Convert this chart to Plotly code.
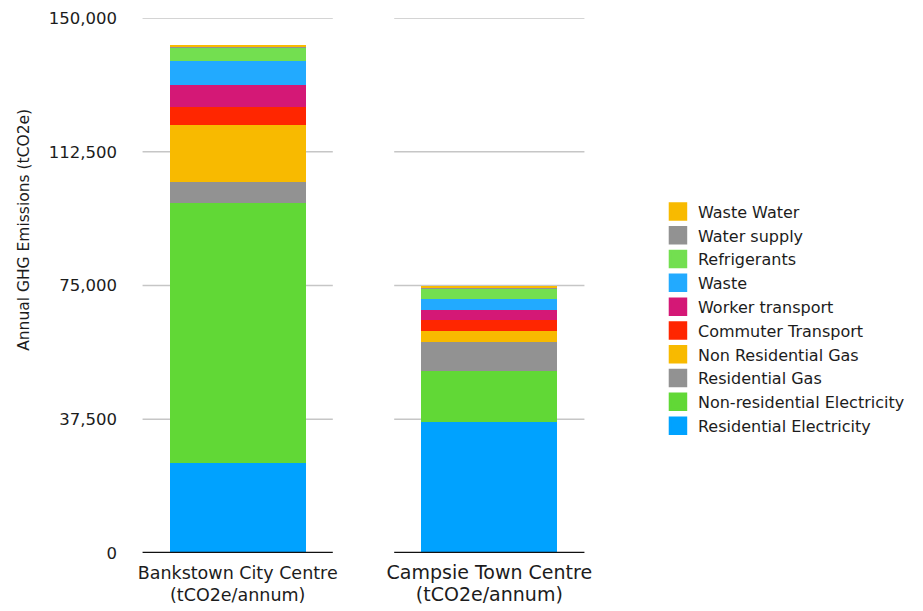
import plotly.graph_objects as go

# Town centres (x categories)
centres = ["Bankstown City Centre", "Campsie Town Centre"]
label_sub = "(tCO2e/annum)"

# Emission sources, bottom of the stack first
sources = [
    "Residential Electricity",
    "Non-residential Electricity",
    "Residential Gas",
    "Non Residential Gas",
    "Commuter Transport",
    "Worker transport",
    "Waste",
    "Refrigerants",
    "Water supply",
    "Waste Water",
]

# Annual emissions (tCO2e) per source, [Bankstown, Campsie]
residential_electricity = [25150, 36730]
non_residential_electricity = [72990, 14300]
residential_gas = [5970, 8130]
non_residential_gas = [15900, 3080]
commuter_transport = [5050, 3080]
worker_transport = [6170, 2800]
waste = [6730, 3080]
refrigerants = [3730, 3080]
water_supply = [50, 50]
waste_water = [560, 620]

values = [
    residential_electricity,
    non_residential_electricity,
    residential_gas,
    non_residential_gas,
    commuter_transport,
    worker_transport,
    waste,
    refrigerants,
    water_supply,
    waste_water,
]

colors = [
    "#00A2FF",
    "#61D836",
    "#929292",
    "#F8BA00",
    "#FF2600",
    "#D41876",
    "#22AAFF",
    "#73DF50",
    "#929292",
    "#F8BA00",
]

y_ticks = [0, 37500, 75000, 112500, 150000]

FONT = "DejaVu Sans"
TXT = "#1c1c1c"

fig = go.Figure()

for name, vals, col in zip(sources, values, colors):
    fig.add_trace(go.Bar(
        x=centres, y=vals, name=name, width=0.54,
        marker=dict(color=col, line=dict(width=0)),
        showlegend=False, legendgroup=name,
    ))

# larger square swatches for the legend
for name, col in zip(sources, colors):
    fig.add_trace(go.Scatter(
        x=[None], y=[None], mode="markers", name=name, legendgroup=name,
        marker=dict(symbol="square", size=16, color=col,
                    line=dict(color=col, width=2.5)),
    ))

# grid segments and baselines under each category only
shapes = []
for i in range(len(centres)):
    for t in y_ticks[1:]:
        shapes.append(dict(type="line", xref="x", yref="y",
                           x0=i - 0.378, x1=i + 0.378, y0=t, y1=t,
                           line=dict(color="#c6c6c6", width=1.6),
                           layer="below"))
    shapes.append(dict(type="line", xref="x", yref="y",
                       x0=i - 0.378, x1=i + 0.378, y0=0, y1=0,
                       line=dict(color="#111111", width=2.6),
                       layer="above"))

sizes = [17.5, 19]
ticktext = [
    f'<span style="font-size:{s}px">{c}<br>{label_sub}</span>'
    for c, s in zip(centres, sizes)
]

fig.update_layout(
    width=923, height=611,
    margin=dict(l=132, r=328, t=18, b=58),
    barmode="stack",
    plot_bgcolor="white", paper_bgcolor="white",
    font=dict(family=FONT, color=TXT, size=16),
    shapes=shapes,
    showlegend=True,
    legend=dict(
        traceorder="reversed",
        x=1.136, xanchor="left",
        y=0.67, yanchor="top",
        font=dict(family=FONT, size=16, color=TXT),
        bgcolor="rgba(0,0,0,0)",
    ),
    xaxis=dict(
        type="category",
        range=[-0.42, 1.42],
        showgrid=False, zeroline=False, showline=False,
        tickvals=centres, ticktext=ticktext,
        ticks="", ticklabelstandoff=7,
        tickfont=dict(family=FONT, size=17.5, color=TXT),
        automargin=False,
        fixedrange=True,
    ),
    yaxis=dict(
        range=[0, 150000],
        tickvals=y_ticks,
        ticktext=[f"{v:,}" for v in y_ticks],
        showgrid=False, zeroline=False, showline=False,
        ticks="", ticklabelstandoff=14,
        tickfont=dict(family=FONT, size=16.5, color=TXT),
        automargin=False,
        fixedrange=True,
    ),
    annotations=[dict(
        text="Annual GHG Emissions (tCO2e)",
        xref="paper", yref="paper",
        x=0, y=0.604, xanchor="center", yanchor="middle",
        xshift=-108, textangle=-90, showarrow=False,
        font=dict(family=FONT, size=15.5, color=TXT),
    )],
)

fig.write_html("out.html")
